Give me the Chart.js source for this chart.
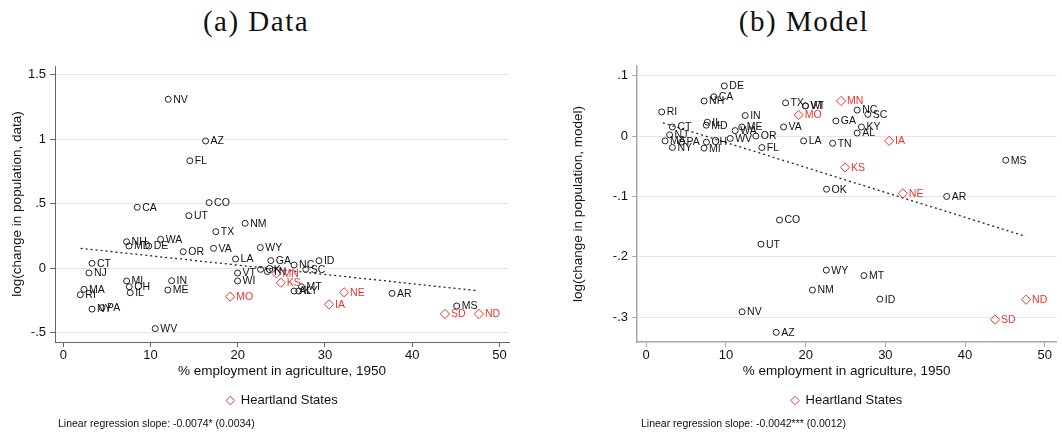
<!DOCTYPE html>
<html>
<head>
<meta charset="utf-8">
<title>Population change vs. agricultural employment</title>
<script src="https://cdn.jsdelivr.net/npm/chart.js"></script>
<style>
  body { margin: 0; width: 1062px; height: 434px; background: #fff; position: relative; overflow: hidden;
         font-family: "Liberation Sans", Arial, sans-serif; }
  .title { position: absolute; top: 7px; width: 240px; text-align: center; line-height: 29px;
           font-family: "Liberation Serif", serif; font-size: 29px; letter-spacing: 1.5px; color: #111; }
  canvas { position: absolute; top: 40px; }
  .note { position: absolute; top: 417px; font-size: 10.5px; line-height: 12px; color: #111; white-space: nowrap; }
</style>
</head>
<body>
<div class="title" style="left:136px">(a) Data</div>
<div class="title" style="left:684px">(b) Model</div>
<canvas id="dataChart" width="531" height="394" style="left:0"></canvas>
<canvas id="modelChart" width="531" height="394" style="left:531px"></canvas>
<div class="note" style="left:58px">Linear regression slope: -0.0074* (0.0034)</div>
<div class="note" style="left:641px">Linear regression slope: -0.0042*** (0.0012)</div>
<script>
// states and values
const states = ['AL','AZ','AR','CA','CO','CT','DE','FL','GA','ID','IL','IN','IA','KS','KY','LA',
  'ME','MD','MA','MI','MN','MS','MO','MT','NE','NV','NH','NJ','NM','NY','NC','ND',
  'OH','OK','OR','PA','RI','SC','SD','TN','TX','UT','VT','VA','WA','WV','WI','WY'];
const agShare1950 = [26.46, 16.31, 37.69, 8.48, 16.72, 3.29, 9.8, 14.51, 23.79, 29.31, 7.67, 12.42, 30.47, 24.94, 27.0, 19.75,
  11.99, 7.53, 2.37, 7.26, 24.44, 45.1, 19.13, 27.31, 32.19, 12.03, 7.26, 2.94, 20.85, 3.29, 26.46, 47.65,
  7.56, 22.62, 13.75, 4.43, 1.95, 27.8, 43.76, 23.39, 17.49, 14.4, 19.98, 17.23, 11.16, 10.54, 19.98, 22.59];
const popChangeData = [-0.176, 0.987, -0.194, 0.473, 0.509, 0.039, 0.173, 0.834, 0.06, 0.059, -0.189, -0.096, -0.279, -0.112, -0.176, 0.072,
  -0.168, 0.173, -0.163, -0.098, -0.039, -0.292, -0.22, -0.143, -0.186, 1.31, 0.206, -0.036, 0.349, -0.316, 0.026, -0.354,
  -0.143, -0.008, 0.129, -0.305, -0.205, -0.008, -0.354, -0.025, 0.284, 0.408, -0.036, 0.155, 0.225, -0.467, -0.098, 0.161];
const popChangeModel = [0.005, -0.325, -0.1, 0.065, -0.139, 0.015, 0.083, -0.019, 0.025, -0.27, 0.023, 0.034, -0.008, -0.052, 0.015, -0.008,
  0.015, 0.018, -0.008, -0.02, 0.058, -0.04, 0.035, -0.231, -0.095, -0.291, 0.058, 0.002, -0.255, -0.019, 0.043, -0.271,
  -0.01, -0.088, 0.0, -0.01, 0.04, 0.036, -0.304, -0.012, 0.055, -0.179, 0.05, 0.015, 0.009, -0.004, 0.05, -0.222];
const heartland = ['IA','KS','MN','MO','NE','ND','SD'];

// fitted lines (end points)
const dataFitX = [1.99, 47.54];
const dataFitY = [0.155, -0.174];
const modelFitX = [2.1, 47.6];
const modelFitY = [0.022, -0.166];

// ticks
const xTicks = [0, 10, 20, 30, 40, 50];
const dataYTicks = [-0.5, 0, 0.5, 1, 1.5];
const dataYTickLabels = ['-.5', '0', '.5', '1', '1.5'];
const modelYTicks = [-0.3, -0.2, -0.1, 0, 0.1];
const modelYTickLabels = ['-.3', '-.2', '-.1', '0', '.1'];

const RED = '#e8352c';
const FONT = '"Liberation Sans", Arial, sans-serif';

function pick(yArr, inHeartland) {
  const pts = [], labels = [];
  states.forEach((s, i) => {
    if (heartland.includes(s) === inHeartland) {
      pts.push({x: agShare1950[i], y: yArr[i]});
      labels.push(s);
    }
  });
  return {pts, labels};
}

const pointLabels = {
  id: 'pointLabels',
  afterDatasetsDraw(chart) {
    const ctx = chart.ctx;
    ctx.save();
    ctx.font = '10.5px ' + FONT;
    ctx.textBaseline = 'middle';
    chart.data.datasets.forEach((ds, i) => {
      if (!ds.labels) return;
      ctx.fillStyle = ds.labelColor;
      chart.getDatasetMeta(i).data.forEach((el, j) => {
        ctx.fillText(ds.labels[j], el.x + ds.labelGap, el.y + 0.5);
      });
    });
    ctx.restore();
  }
};

function makeChart(id, yArr, fitX, fitY, yTicks, yTickLabels, cfg) {
  const others = pick(yArr, false);
  const heart = pick(yArr, true);
  return new Chart(document.getElementById(id), {
    type: 'scatter',
    data: {
      datasets: [
        {
          label: 'Other states',
          data: others.pts, labels: others.labels, labelColor: '#111', labelGap: 5,
          pointStyle: 'circle', pointRadius: 3, borderColor: '#222', backgroundColor: 'transparent', borderWidth: 1
        },
        {
          label: 'Heartland States',
          data: heart.pts, labels: heart.labels, labelColor: RED, labelGap: 6,
          pointStyle: 'rectRot', pointRadius: 4.6, borderColor: RED, backgroundColor: 'transparent', borderWidth: 1
        },
        {
          label: 'fit', type: 'line',
          data: fitX.map((x, i) => ({x: x, y: fitY[i]})),
          borderColor: '#222', borderWidth: 1.3, borderDash: [2, 3], pointRadius: 0, fill: false
        }
      ]
    },
    options: {
      responsive: false,
      animation: false,
      events: [],
      layout: { padding: { left: 0, top: 26, right: cfg.padRight, bottom: 17 } },
      plugins: {
        tooltip: { enabled: false },
        legend: {
          position: 'bottom',
          fullSize: false,
          labels: {
            filter: item => item.text === 'Heartland States',
            usePointStyle: true, boxWidth: 8, boxHeight: 6, padding: 10,
            color: '#111', font: { family: FONT, size: 13 }
          }
        }
      },
      scales: {
        x: {
          type: 'linear', min: cfg.xMin, max: cfg.xMax,
          afterFit: s => { s.height = 42; },
          afterBuildTicks: s => { s.ticks = xTicks.map(v => ({value: v})); },
          ticks: { padding: 1, color: '#111', font: { family: FONT, size: 13 }, maxRotation: 0,
                   callback: v => String(v) },
          grid: { drawOnChartArea: false, drawTicks: true, tickLength: 5, tickColor: cfg.axisColor },
          border: { display: true, color: cfg.axisColor, width: cfg.axisWidth },
          title: { display: true, text: '% employment in agriculture, 1950', color: '#111',
                   font: { family: FONT, size: 13.5 }, padding: { top: 0, bottom: 5 } }
        },
        y: {
          type: 'linear', min: cfg.yMin, max: cfg.yMax,
          afterFit: s => { s.width = cfg.yAxisWidth; },
          afterBuildTicks: s => { s.ticks = yTicks.map(v => ({value: v})); },
          ticks: { padding: 4, color: '#111', font: { family: FONT, size: 13 },
                   callback: (v, i) => yTickLabels[yTicks.indexOf(v)] },
          grid: { color: '#e6e6e6', lineWidth: 1, drawTicks: true, tickLength: 5, tickColor: cfg.axisColor },
          border: { display: true, color: cfg.axisColor, width: cfg.axisWidth },
          title: { display: true, text: cfg.yTitle, color: '#111',
                   font: { family: FONT, size: 13.5 }, padding: { top: cfg.yTitlePad, bottom: 0 } }
        }
      }
    },
    plugins: [pointLabels]
  });
}

makeChart('dataChart', popChangeData, dataFitX, dataFitY, dataYTicks, dataYTickLabels, {
  xMin: -0.95, xMax: 51.1, yMin: -0.571, yMax: 1.568, yAxisWidth: 55, padRight: 22,
  axisColor: '#666', axisWidth: 1, yTitle: 'log(change in population, data)', yTitlePad: 9
});
makeChart('modelChart', popChangeModel, modelFitX, modelFitY, modelYTicks, modelYTickLabels, {
  xMin: -1.15, xMax: 51.45, yMin: -0.341, yMax: 0.116, yAxisWidth: 106, padRight: 4,
  axisColor: '#a8a8a8', axisWidth: 1.5, yTitle: 'log(change in population, model)', yTitlePad: 39
});
</script>
</body>
</html>
